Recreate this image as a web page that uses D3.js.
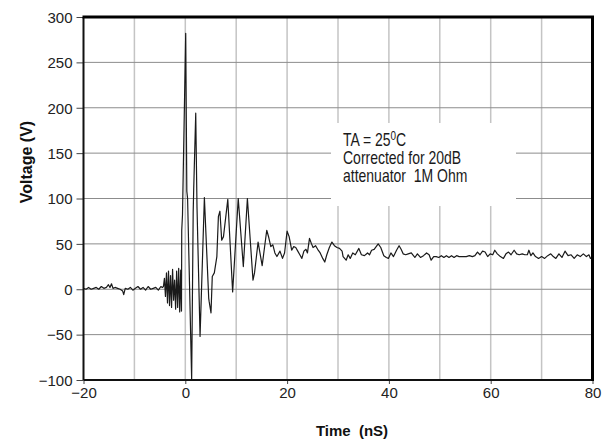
<!DOCTYPE html>
<html><head><meta charset="utf-8">
<script src="https://cdn.jsdelivr.net/npm/d3@7"></script>
<style>body{margin:0;background:#fff}svg{display:block}</style>
</head><body>
<svg id="c" width="609" height="439"></svg>
<script>
const xTicks = [-20, 0, 20, 40, 60, 80];
const xGrid = [-10, 0, 10, 20, 30, 40, 50, 60, 70];
const yTicks = [-100, -50, 0, 50, 100, 150, 200, 250, 300];
const xLabel = "Time (nS)";
const yLabel = "Voltage (V)";
const noteLines = ["TA = 25|0|C", "Corrected for 20dB", "attenuator  1M Ohm"];

const time = [-20,-19.5,-19,-18.5,-18,-17.5,-17,-16.5,-16,-15.5,-15.1,-14.8,-14.5,-14.2,-13.8,-13.3,-12.8,-12.3,-12.1,-11.8,-11.3,-10.8,-10.3,-9.8,-9.3,-8.8,-8.3,-7.8,-7.3,-6.8,-6.3,-5.8,-5.3,-4.8,-4.5,
 -4.3,-4.1,-3.9,-3.7,-3.5,-3.3,-3.1,-2.9,-2.7,-2.5,-2.3,-2.1,-1.9,-1.7,-1.5,-1.3,-1.1,-0.9,-0.75,
 -0.7,-0.55,0.08,0.3,0.45,1.25,1.55,1.65,2.05,2.3,2.9,3.75,4.6,4.7,5.05,5.3,5.7,6.2,6.5,6.8,7.15,7.5,8.35,9.3,10.4,11.4,12.2,13.3,13.6,14.3,15.1,16.0,16.4,16.8,17.2,17.6,18.0,18.6,19.1,19.5,
 20.0,20.4,20.9,21.3,21.7,22.1,22.5,22.9,23.3,23.7,24.0,24.4,24.8,25.1,25.6,26.0,26.5,27.0,27.4,27.8,28.3,28.8,29.3,29.8,30.3,30.8,31.0,31.6,32.0,32.4,32.9,33.4,34.1,34.6,35.2,35.8,36.2,36.6,37.1,37.9,38.4,39.0,39.5,39.9,
 40.4,40.9,41.5,42.0,42.4,42.8,43.3,43.8,44.4,45.1,45.6,46.2,46.8,47.4,47.9,48.3,48.8,49.3,49.8,50.3,50.8,51.3,51.8,52.3,52.8,53.3,53.8,54.5,55.2,55.8,56.4,56.9,57.4,57.9,58.4,58.9,59.4,59.9,
 60.4,60.8,61.3,61.9,62.5,63.0,63.5,64.0,64.6,65.1,65.6,66.2,66.7,67.2,67.5,67.9,68.3,68.8,69.4,70.0,70.6,71.2,71.8,72.3,72.8,73.4,74.0,74.6,75.2,75.8,76.4,77.0,77.6,78.2,78.8,79.3,79.6,80];
const voltage = [1,0,2,0,1,2,0,3,1,2,5,2,6,1,2,1,0,-2,-6,1,0,2,-1,1,3,0,2,-1,3,0,1,2,-1,3,2,
 3,12,-8,18,-15,20,-18,15,-20,22,-12,10,-22,20,-20,23,-25,21,-24,
 65,82,282,108,100,-100,85,110,194,90,-52,101,-10,-14,-26,14,18,36,80,86,54,58,99,-3,100,25,100,10,18,52,26,65,57,47,49,40,36,42,34,40,
 64,58,43,47,46,42,38,34,42,44,40,56,50,46,48,44,40,34,30,38,46,52,48,46,45,42,36,32,38,34,40,38,45,38,37,40,38,43,44,50,46,37,35,34,
 40,36,43,48,44,39,38,39,40,35,39,35,37,40,38,32,36,36,35,37,35,37,35,37,35,37,36,36,36,37,36,37,41,38,42,41,36,39,
 38,43,39,36,34,39,41,38,43,39,38,39,38,38,43,37,40,36,34,36,34,37,39,36,34,39,35,42,37,38,34,38,36,39,36,38,34,36];

const svg = d3.select("#c");
const L = 83.5, R = 592.5, T = 17, B = 380;
const x = d3.scaleLinear().domain([-20, 80]).range([L, R]);
const y = d3.scaleLinear().domain([-100, 300]).range([B, T]);
const font = "'Liberation Sans', Arial, sans-serif";

// vertical gridlines
svg.append("g").selectAll("line").data(xGrid).join("line")
  .attr("x1", d => x(d)).attr("x2", d => x(d)).attr("y1", T).attr("y2", B)
  .attr("stroke", "#c4c4c4").attr("stroke-width", 1.5);
// horizontal gridlines
svg.append("g").selectAll("line").data(yTicks.filter(d => d > -100 && d < 300)).join("line")
  .attr("x1", L).attr("x2", R).attr("y1", d => y(d)).attr("y2", d => y(d))
  .attr("stroke", "#8c8c8c").attr("stroke-width", 1);

// note box (covers gridlines)
svg.append("rect").attr("x", 331).attr("y", 123).attr("width", 185).attr("height", 83).attr("fill", "#fff");

// signal
svg.append("clipPath").attr("id", "clip").append("rect").attr("x", L).attr("y", T).attr("width", R - L).attr("height", B - T);
const pts = time.map((t, i) => [t, voltage[i]]);
svg.append("path").datum(pts)
  .attr("clip-path", "url(#clip)")
  .attr("fill", "none").attr("stroke", "#1a1a1a").attr("stroke-width", 1.2).attr("stroke-linejoin", "round")
  .attr("d", d3.line().x(d => x(d[0])).y(d => y(d[1])));

// axes
const yAxis = d3.axisLeft(y).tickValues(yTicks).tickSize(7).tickPadding(4).tickFormat(d3.format("d"));
const gy = svg.append("g").attr("transform", `translate(${L},0)`).call(yAxis);
const xAxis = d3.axisBottom(x).tickValues(xTicks).tickSize(4).tickPadding(3).tickFormat(d3.format("d"));
const gx = svg.append("g").attr("transform", `translate(0,${B})`).call(xAxis);
[gx, gy].forEach(g => {
  g.select(".domain").remove();
  g.selectAll(".tick line").attr("stroke", "#444");
  g.selectAll("text").attr("font-family", font).attr("font-size", 15).attr("fill", "#222");
});
gy.selectAll("text").attr("dy", "0.35em");

// frame
svg.append("line").attr("x1", L).attr("x2", L).attr("y1", T).attr("y2", B).attr("stroke", "#111").attr("stroke-width", 2);
svg.append("line").attr("x1", L).attr("x2", R).attr("y1", B).attr("y2", B).attr("stroke", "#111").attr("stroke-width", 2);
svg.append("line").attr("x1", L - 1).attr("x2", R + 1.5).attr("y1", T).attr("y2", T).attr("stroke", "#000").attr("stroke-width", 3);
svg.append("line").attr("x1", R).attr("x2", R).attr("y1", T).attr("y2", B + 1).attr("stroke", "#000").attr("stroke-width", 3);

// axis titles
svg.append("text").attr("x", 352).attr("y", 436).attr("text-anchor", "middle")
  .attr("font-family", font).attr("font-size", 15).attr("font-weight", "bold").attr("fill", "#111")
  .style("white-space", "pre").text("Time  (nS)");
svg.append("text").attr("transform", "translate(32,162) rotate(-90)").attr("text-anchor", "middle")
  .attr("font-family", font).attr("font-size", 16).attr("font-weight", "bold").attr("fill", "#111").text(yLabel);

// note
const note = svg.append("g").attr("transform", "translate(343,146) scale(1,1.25)");
noteLines.forEach((s, i) => {
  const t = note.append("text").attr("x", 0).attr("y", i * 14.4)
    .attr("font-family", font).attr("font-size", 14).attr("fill", "#1a1a1a").style("white-space", "pre");
  const parts = s.split("|");
  t.append("tspan").text(parts[0]);
  if (parts.length > 1) {
    t.append("tspan").attr("font-size", 10).attr("dy", -5).text(parts[1]);
    t.append("tspan").attr("dy", 5).text(parts[2]);
  }
});
</script>
</body></html>
